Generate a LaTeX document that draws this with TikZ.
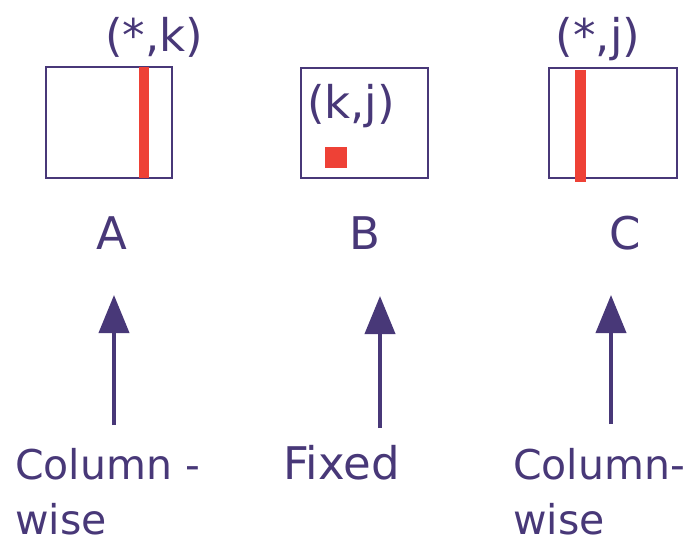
\documentclass[tikz,border=0pt]{standalone}
\usepackage{fontspec}
\setmainfont{DejaVu Sans}
\usetikzlibrary{arrows.meta}
\definecolor{ink}{RGB}{72,56,120}
\definecolor{hot}{RGB}{238,65,54}
\begin{document}
\begin{tikzpicture}[x=1pt,y=-1pt,
  matbox/.style={draw=ink,line width=2pt,fill=white},
  lbl/.style={text=ink,inner sep=0pt,font=\fontsize{45}{60}\selectfont},
  lblsm/.style={text=ink,inner sep=0pt,font=\fontsize{41}{55}\selectfont},
  up/.style={draw=ink,line width=4pt,-{Triangle[width=30pt,length=38pt]}}]
\useasboundingbox (0,0) rectangle (688,548);
% matrices
\draw[matbox] (46,67) rectangle (172,178);
\fill[hot] (139,67) rectangle (149,178);
\draw[matbox] (301,68) rectangle (428,178);
\fill[hot] (325,147) rectangle (347,168);
\draw[matbox] (549,68) rectangle (677,178);
\fill[hot] (575,70) rectangle (586,182);
% labels
\node[lbl] (ak) at (154,37) {(*,k)};
\node[lbl] (kj) at (351,106) {(k,j)};
\node[lbl] (cj) at (598,39) {(*,j)};
\node[lbl] (A) at (112,233) {A};
\node[lbl] (B) at (365,233) {B};
\node[lbl] (C) at (625,233) {C};
% arrows
\coordinate (a1) at (114,425); \coordinate (a2) at (114,295);
\coordinate (b1) at (380,428); \coordinate (b2) at (380,296);
\coordinate (c1) at (611,424); \coordinate (c2) at (611,295);
\draw[up] (a1) -- (a2);
\draw[up] (b1) -- (b2);
\draw[up] (c1) -- (c2);
% bottom texts
\node[lblsm,align=left,anchor=north west] (t1) at (15,448) {Column -\\wise};
\node[lbl,anchor=north west] (t2) at (283,445) {Fixed};
\node[lblsm,align=left,anchor=north west] (t3) at (513,448) {Column-\\wise};
\end{tikzpicture}
\end{document}
